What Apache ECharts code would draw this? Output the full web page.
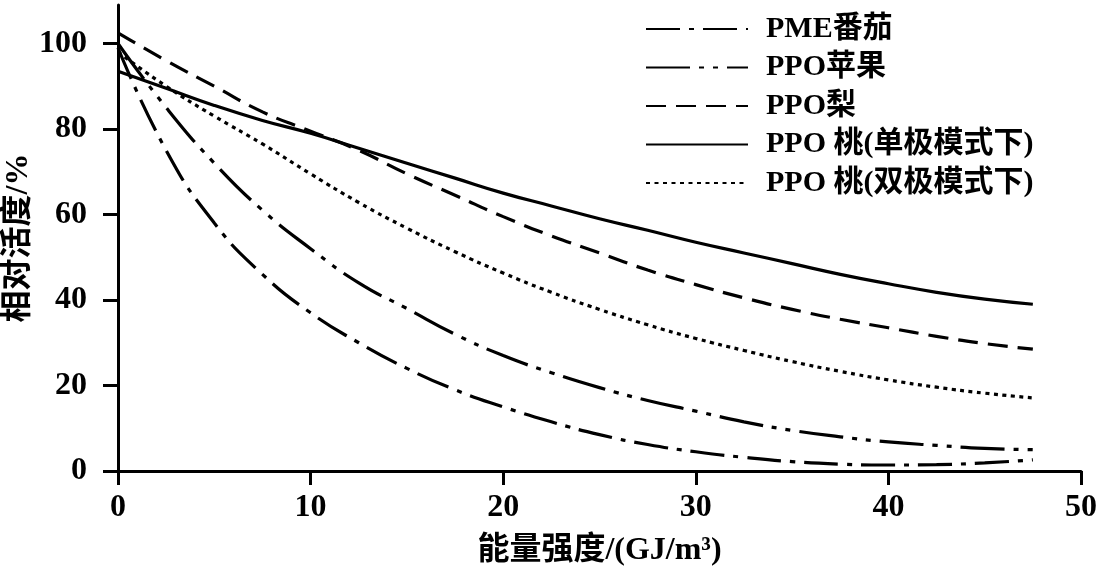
<!DOCTYPE html>
<html>
<head>
<meta charset="utf-8">
<script src="https://cdn.jsdelivr.net/npm/echarts@6/dist/echarts.min.js"></script>
<style>html,body{margin:0;padding:0;background:#fff;}#c{width:1098px;height:579px;}</style>
</head>
<body>
<div id="c"></div>
<script>
const seriesNames = ['PME番茄', 'PPO苹果', 'PPO梨', 'PPO 桃(单极模式下)', 'PPO 桃(双极模式下)'];
const xValues = [0, 2.5, 5, 7.5, 10, 12.5, 15, 17.5, 20, 22.5, 25, 27.5, 30, 32.5, 35, 37.5, 40, 42.5, 45, 47.5];
const pmeTomato = [99, 75, 58, 46, 37, 30, 24, 19, 15, 11.5, 8.5, 6.2, 4.5, 3.2, 2.2, 1.6, 1.4, 1.5, 1.9, 2.6];
const ppoApple = [100, 85, 72, 61, 52, 44, 38, 32, 27, 23, 19.5, 16.5, 14, 11.5, 9.5, 8, 6.8, 6, 5.3, 5.0];
const ppoPear = [102.5, 96, 90, 84, 79.5, 75, 69.5, 64.5, 59.5, 55, 51, 47, 43.6, 40.5, 37.8, 35.5, 33.5, 31.5, 29.8, 28.5];
const ppoPeachMono = [93.5, 89.5, 85.5, 82, 79, 75.5, 72, 68.5, 65, 62, 59, 56.3, 53.5, 51, 48.5, 46, 43.8, 41.8, 40.2, 39];
const ppoPeachBi = [98, 90, 83, 76.5, 69.5, 62.8, 56.8, 51.3, 46.3, 41.8, 37.8, 34.2, 31, 28.2, 25.6, 23.3, 21.3, 19.6, 18.2, 17.1];
const xTicks = [0, 10, 20, 30, 40, 50];
const yTicks = [0, 20, 40, 60, 80, 100];

const allY = [pmeTomato, ppoApple, ppoPear, ppoPeachMono, ppoPeachBi];
const dashTypes = [[34, 9, 5, 9], [44, 9, 5, 9, 5, 9], [20, 10], 'solid', [4, 4.5]];
const FONT = "'Liberation Serif', 'Noto Sans CJK SC', serif";

const chart = echarts.init(document.getElementById('c'), null, {renderer: 'canvas'});
chart.setOption({
  backgroundColor: '#fff',
  animation: false,
  grid: {left: 118, right: 17, top: 5, bottom: 108, containLabel: false, outerBoundsMode: 'none'},
  legend: {
    orient: 'vertical',
    left: 640,
    top: 9,
    itemWidth: 102,
    itemHeight: 14,
    itemGap: 8.5,
    data: seriesNames,
    itemStyle: {opacity: 0},
    textStyle: {fontFamily: FONT, fontSize: 30, fontWeight: 'bold', color: '#000', lineHeight: 30, padding: [0, 0, 0, 13]}
  },
  xAxis: {
    type: 'value', min: 0, max: 50, interval: 10,
    name: '能量强度/(GJ/m³)', nameLocation: 'middle', nameGap: 64,
    nameTextStyle: {fontFamily: FONT, fontSize: 32, fontWeight: 'bold', color: '#000'},
    axisLine: {show: true, onZero: false, lineStyle: {color: '#000', width: 3}},
    axisTick: {show: true, length: 14, lineStyle: {color: '#000', width: 3}, customValues: xTicks},
    axisLabel: {fontFamily: FONT, fontSize: 32, fontWeight: 'bold', color: '#000', margin: 21, customValues: xTicks},
    splitLine: {show: false}
  },
  yAxis: {
    type: 'value', min: 0, max: 109, interval: 20,
    name: '相对活度/%', nameLocation: 'middle', nameGap: 83, nameRotate: 90, nameMoveOverlap: false,
    nameTextStyle: {fontFamily: FONT, fontSize: 32, fontWeight: 'bold', color: '#000'},
    axisLine: {show: true, onZero: false, lineStyle: {color: '#000', width: 3}},
    axisTick: {show: true, length: 15, lineStyle: {color: '#000', width: 3}, customValues: yTicks},
    axisLabel: {fontFamily: FONT, fontSize: 32, fontWeight: 'bold', color: '#000', margin: 31, customValues: yTicks},
    splitLine: {show: false}
  },
  series: seriesNames.map((name, i) => ({
    name: name,
    type: 'line',
    smooth: true,
    symbol: 'none',
    data: xValues.map((x, j) => [x, allY[i][j]]),
    lineStyle: {color: '#000', width: 3.2, type: dashTypes[i]},
    itemStyle: {color: '#000'}
  }))
});
</script>
</body>
</html>
